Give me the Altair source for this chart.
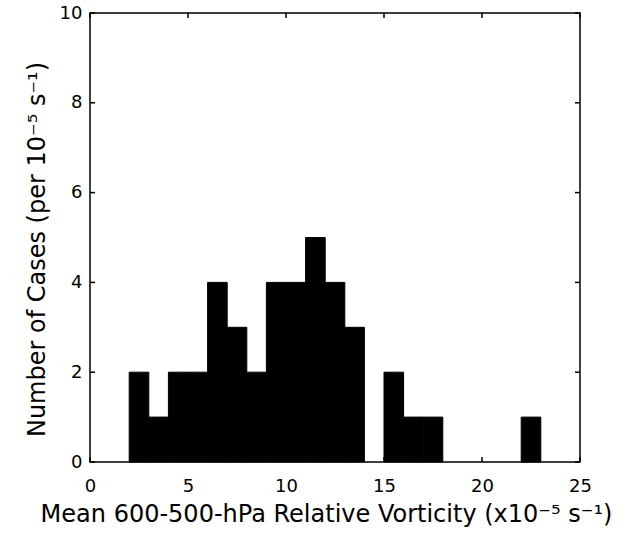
import altair as alt
import pandas as pd

# Histogram bins (left edge, width 1) and counts
bin_start = [2, 3, 4, 5, 6, 7, 8, 9, 10, 11, 12, 13, 15, 16, 17, 22]
counts = [2, 1, 2, 2, 4, 3, 2, 4, 4, 5, 4, 3, 2, 1, 1, 1]
x_ticks = [0, 5, 10, 15, 20, 25]
y_ticks = [0, 2, 4, 6, 8, 10]

df = pd.DataFrame({
    "start": bin_start,
    "end": [b + 1 for b in bin_start],
    "count": counts,
})
xt = pd.DataFrame({"v": x_ticks})
yt = pd.DataFrame({"v": y_ticks})

W, H = 490, 449
TL = 5  # inward tick length (px)
FONT = "DejaVu Sans"
xs = alt.Scale(domain=[0, 25], nice=False, zero=False)
ys = alt.Scale(domain=[0, 10], nice=False)

bars = alt.Chart(df).mark_bar(color="black", stroke="black", strokeWidth=1).encode(
    x=alt.X("start:Q", scale=xs, axis=alt.Axis(
        orient="bottom", values=x_ticks, ticks=False, tickSize=0, domain=False, grid=False,
        labelFont=FONT, labelFontSize=18, labelPadding=15, labelColor="black",
        labelFlush=False, labelOverlap=False,
        title="Mean 600-500-hPa Relative Vorticity (x10\u207b\u2075 s\u207b\u00b9)",
        titleFont=FONT, titleFontSize=24, titleFontWeight="normal", titleColor="black",
        titlePadding=7, titleX=236)),
    x2="end",
    y=alt.Y("count:Q", scale=ys, axis=alt.Axis(
        orient="left", values=y_ticks, ticks=False, tickSize=0, domain=False, grid=False,
        labelFont=FONT, labelFontSize=18, labelPadding=8, labelColor="black",
        labelFlush=False, labelOverlap=False,
        title="Number of Cases (per 10\u207b\u2075 s\u207b\u00b9)",
        titleFont=FONT, titleFontSize=24, titleFontWeight="normal", titleColor="black",
        titlePadding=10, titleY=236)),
    y2=alt.datum(0),
)

rule_style = dict(color="black", strokeWidth=1.5)
xt_bottom = alt.Chart(xt).mark_rule(**rule_style).encode(
    x=alt.X("v:Q", scale=xs), y=alt.value(H), y2=alt.value(H - TL))
xt_top = alt.Chart(xt).mark_rule(**rule_style).encode(
    x=alt.X("v:Q", scale=xs), y=alt.value(0), y2=alt.value(TL))
yt_left = alt.Chart(yt).mark_rule(**rule_style).encode(
    y=alt.Y("v:Q", scale=ys), x=alt.value(0), x2=alt.value(TL))
yt_right = alt.Chart(yt).mark_rule(**rule_style).encode(
    y=alt.Y("v:Q", scale=ys), x=alt.value(W), x2=alt.value(W - TL))

chart = alt.layer(bars, xt_bottom, xt_top, yt_left, yt_right).properties(
    width=W, height=H,
    padding={"left": 90, "top": 13, "right": 51, "bottom": 76},
    autosize=alt.AutoSizeParams(type="none"),
    background="white",
).configure_view(stroke="black", strokeWidth=1.5)

chart.save("out.html", embed_options={"renderer": "svg", "actions": False})
